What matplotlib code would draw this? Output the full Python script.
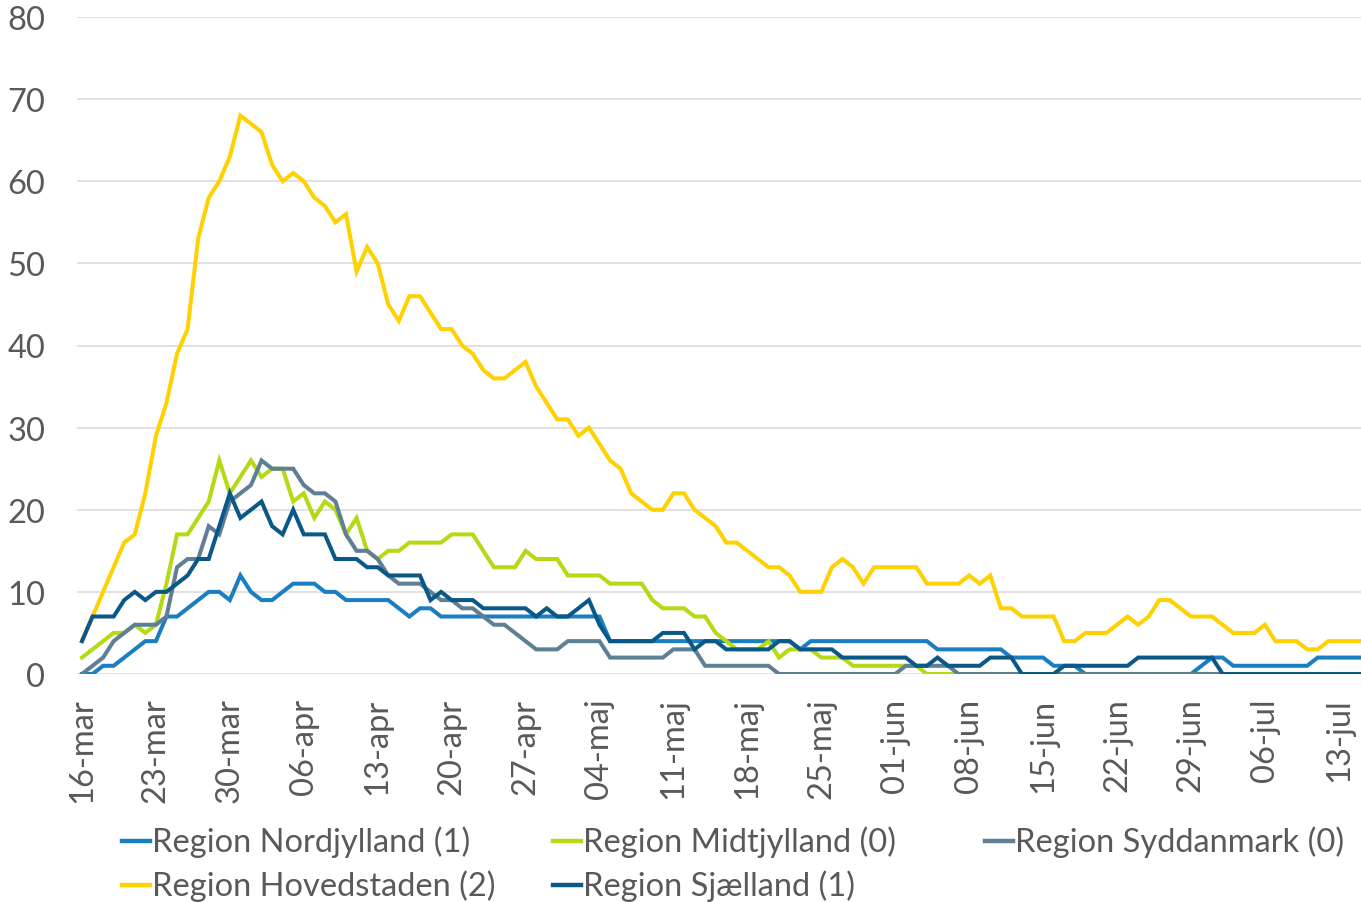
import matplotlib
matplotlib.use("Agg")
import matplotlib.pyplot as plt
from matplotlib.lines import Line2D
import pandas as pd

# daily counts per region, 16 March - 15 July
nordjylland = [0, 0, 1, 1, 2, 3, 4, 4, 7, 7, 8, 9, 10, 10, 9, 12, 10, 9, 9, 10,
               11, 11, 11, 10, 10, 9, 9, 9, 9, 9, 8, 7, 8, 8, 7, 7, 7, 7, 7, 7,
               7, 7, 7, 7, 7, 7, 7, 7, 7, 7, 4, 4, 4, 4, 4, 4, 4, 4, 4, 4,
               4, 4, 4, 4, 4, 4, 4, 4, 3, 4, 4, 4, 4, 4, 4, 4, 4, 4, 4, 4,
               4, 3, 3, 3, 3, 3, 3, 3, 2, 2, 2, 2, 1, 1, 1, 0, 0, 0, 0, 0,
               0, 0, 0, 0, 0, 0, 1, 2, 2, 1, 1, 1, 1, 1, 1, 1, 1, 2, 2, 2,
               2, 2]
midtjylland = [2, 3, 4, 5, 5, 6, 5, 6, 11, 17, 17, 19, 21, 26, 22, 24, 26, 24, 25, 25,
               21, 22, 19, 21, 20, 17, 19, 15, 14, 15, 15, 16, 16, 16, 16, 17, 17, 17, 15, 13,
               13, 13, 15, 14, 14, 14, 12, 12, 12, 12, 11, 11, 11, 11, 9, 8, 8, 8, 7, 7,
               5, 4, 3, 3, 3, 4, 2, 3, 3, 3, 2, 2, 2, 1, 1, 1, 1, 1, 1, 1,
               0, 0, 0, 0, 0, 0, 0, 0, 0, 0, 0, 0, 0, 0, 0, 0, 0, 0, 0, 0,
               0, 0, 0, 0, 0, 0, 0, 0, 0, 0, 0, 0, 0, 0, 0, 0, 0, 0, 0, 0,
               0, 0]
syddanmark = [0, 1, 2, 4, 5, 6, 6, 6, 7, 13, 14, 14, 18, 17, 21, 22, 23, 26, 25, 25,
              25, 23, 22, 22, 21, 17, 15, 15, 14, 12, 11, 11, 11, 10, 9, 9, 8, 8, 7, 6,
              6, 5, 4, 3, 3, 3, 4, 4, 4, 4, 2, 2, 2, 2, 2, 2, 3, 3, 3, 1,
              1, 1, 1, 1, 1, 1, 0, 0, 0, 0, 0, 0, 0, 0, 0, 0, 0, 0, 1, 1,
              1, 1, 1, 0, 0, 0, 0, 0, 0, 0, 0, 0, 0, 0, 0, 0, 0, 0, 0, 0,
              0, 0, 0, 0, 0, 0, 0, 0, 0, 0, 0, 0, 0, 0, 0, 0, 0, 0, 0, 0,
              0, 0]
hovedstaden = [4, 7, 10, 13, 16, 17, 22, 29, 33, 39, 42, 53, 58, 60, 63, 68, 67, 66, 62, 60,
               61, 60, 58, 57, 55, 56, 49, 52, 50, 45, 43, 46, 46, 44, 42, 42, 40, 39, 37, 36,
               36, 37, 38, 35, 33, 31, 31, 29, 30, 28, 26, 25, 22, 21, 20, 20, 22, 22, 20, 19,
               18, 16, 16, 15, 14, 13, 13, 12, 10, 10, 10, 13, 14, 13, 11, 13, 13, 13, 13, 13,
               11, 11, 11, 11, 12, 11, 12, 8, 8, 7, 7, 7, 7, 4, 4, 5, 5, 5, 6, 7,
               6, 7, 9, 9, 8, 7, 7, 7, 6, 5, 5, 5, 6, 4, 4, 4, 3, 3, 4, 4,
               4, 4]
sjaelland = [4, 7, 7, 7, 9, 10, 9, 10, 10, 11, 12, 14, 14, 18, 22, 19, 20, 21, 18, 17,
             20, 17, 17, 17, 14, 14, 14, 13, 13, 12, 12, 12, 12, 9, 10, 9, 9, 9, 8, 8,
             8, 8, 8, 7, 8, 7, 7, 8, 9, 6, 4, 4, 4, 4, 4, 5, 5, 5, 3, 4,
             4, 3, 3, 3, 3, 3, 4, 4, 3, 3, 3, 3, 2, 2, 2, 2, 2, 2, 2, 1,
             1, 2, 1, 1, 1, 1, 2, 2, 2, 0, 0, 0, 0, 1, 1, 1, 1, 1, 1, 1,
             2, 2, 2, 2, 2, 2, 2, 2, 0, 0, 0, 0, 0, 0, 0, 0, 0, 0, 0, 0,
             0, 0]

series_names = ["Region Nordjylland (1)", "Region Midtjylland (0)", "Region Syddanmark (0)",
                "Region Hovedstaden (2)", "Region Sjælland (1)"]
series_values = [nordjylland, midtjylland, syddanmark, hovedstaden, sjaelland]
colors = ["#1a7ec2", "#b3da14", "#5e7f94", "#ffd100", "#0a5887"]

month_names = {3: "mar", 4: "apr", 5: "maj", 6: "jun", 7: "jul"}
dates = pd.date_range("2020-03-16", periods=len(hovedstaden), freq="D")

plt.rcParams['font.family'] = ['Lato', 'DejaVu Sans']
text_gray = "#595959"
fsize = 23.5

fig = plt.figure(figsize=(13.61, 9.03), dpi=100)
ax = fig.add_axes([77 / 1361, 1 - 675 / 903, 1 - 77 / 1361, (675 - 18) / 903])

days = list(range(len(dates)))
for vals, c in zip(series_values, colors):
    ax.plot(days, vals, color=c, lw=2.9, solid_joinstyle='miter', clip_on=True)

ax.set_xlim(-0.47, 121.1)
ax.set_ylim(0, 80)
ax.set_yticks(range(0, 81, 10))
tick_days = days[::7]
ax.set_xticks(tick_days)
ax.set_xticklabels([f"{dates[d].day:02d}-{month_names[dates[d].month]}" for d in tick_days],
                   rotation=90)

ax.grid(axis='y', color='#d9d9d9', lw=1.1)
ax.set_axisbelow(True)
for s in ax.spines.values():
    s.set_visible(False)
ax.tick_params(axis='y', length=0, pad=23, labelsize=fsize, labelcolor=text_gray)
ax.tick_params(axis='x', length=0, pad=17, labelsize=fsize, labelcolor=text_gray)

# legend laid out like the original (3 columns, 2 rows)
col_x = [122, 553, 985]
row_y = [842, 886]
for i, (name, c) in enumerate(zip(series_names, colors)):
    x0 = col_x[i % 3] / 1361
    y0 = 1 - row_y[i // 3] / 903
    fig.add_artist(Line2D([x0, x0 + 28 / 1361], [y0, y0], color=c, lw=3.2,
                          transform=fig.transFigure))
    fig.text(x0 + 30 / 1361, y0, name, fontsize=fsize, color=text_gray, va='center', ha='left')

fig.savefig("out.png", dpi=100)
